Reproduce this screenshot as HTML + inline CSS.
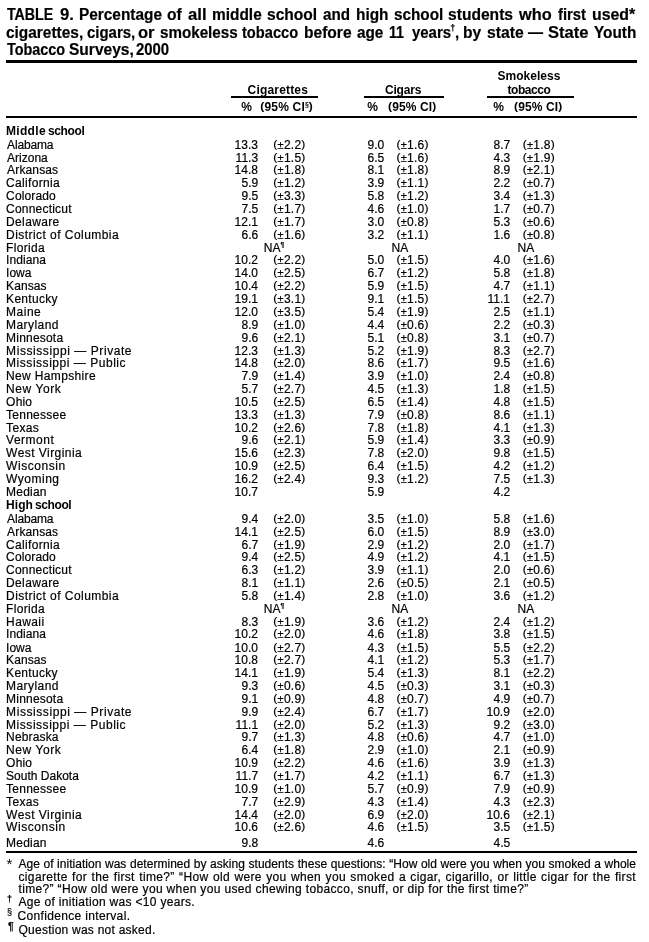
<!DOCTYPE html>
<html><head><meta charset="utf-8"><style>
html,body{margin:0;padding:0;background:#fff;}
#w{position:absolute;left:0;top:0;width:649px;height:942px;will-change:transform;}
body{width:649px;height:942px;position:relative;overflow:hidden;color:#000;font-family:"Liberation Sans",sans-serif;}
.a{position:absolute;white-space:nowrap;font-size:12px;line-height:12px;-webkit-text-stroke:0.2px #000;}
.rule{position:absolute;background:#000;}
.sup{font-size:7px;vertical-align:top;position:relative;top:-3px;letter-spacing:0;}
.pa{display:inline-block;transform:scaleY(0.87);transform-origin:50% 1px;}
.pm{font-size:11px;}
.hsup{font-size:7px;vertical-align:top;position:relative;top:-2px;letter-spacing:0;-webkit-text-stroke:0;}
.tsup{font-size:8px;vertical-align:top;position:relative;top:-1px;letter-spacing:0;margin-left:-1px;margin-right:-1px}
.t{position:absolute;left:7px;width:629px;font-weight:bold;font-size:15px;line-height:15px;}
.j{text-align:justify;text-align-last:justify;white-space:nowrap;}
.t.j{white-space:normal;}
.a.j{white-space:normal;}
</style></head><body><div id="w">
<div class="a" style="left:7.20px;top:7.00px;font-size:16px;line-height:16px;font-weight:bold;transform:scaleX(0.8865);transform-origin:0 0">TABLE</div>
<div class="a" style="left:59.66px;top:7.00px;font-size:16px;line-height:16px;font-weight:bold;transform:scaleX(1.0400);transform-origin:0 0">9.</div>
<div class="a" style="left:78.94px;top:7.00px;font-size:16px;line-height:16px;font-weight:bold;transform:scaleX(0.9619);transform-origin:0 0">Percentage</div>
<div class="a" style="left:166.93px;top:7.00px;font-size:16px;line-height:16px;font-weight:bold;transform:scaleX(0.9714);transform-origin:0 0">of</div>
<div class="a" style="left:188.20px;top:7.00px;font-size:16px;line-height:16px;font-weight:bold;transform:scaleX(1.0400);transform-origin:0 0">all</div>
<div class="a" style="left:211.54px;top:7.00px;font-size:16px;line-height:16px;font-weight:bold;transform:scaleX(0.9640);transform-origin:0 0">middle</div>
<div class="a" style="left:267.23px;top:7.00px;font-size:16px;line-height:16px;font-weight:bold;transform:scaleX(0.9714);transform-origin:0 0">school</div>
<div class="a" style="left:322.50px;top:7.00px;font-size:16px;line-height:16px;font-weight:bold;transform:scaleX(0.9500);transform-origin:0 0">and</div>
<div class="a" style="left:355.64px;top:7.00px;font-size:16px;line-height:16px;font-weight:bold;transform:scaleX(0.9625);transform-origin:0 0">high</div>
<div class="a" style="left:393.84px;top:7.00px;font-size:16px;line-height:16px;font-weight:bold;transform:scaleX(0.9551);transform-origin:0 0">school</div>
<div class="a" style="left:448.12px;top:7.00px;font-size:16px;line-height:16px;font-weight:bold;transform:scaleX(0.9754);transform-origin:0 0">students</div>
<div class="a" style="left:519.10px;top:7.00px;font-size:16px;line-height:16px;font-weight:bold;transform:scaleX(1.0194);transform-origin:0 0">who</div>
<div class="a" style="left:558.00px;top:7.00px;font-size:16px;line-height:16px;font-weight:bold;transform:scaleX(0.9267);transform-origin:0 0">first</div>
<div class="a" style="left:592.31px;top:7.00px;font-size:16px;line-height:16px;font-weight:bold;transform:scaleX(0.9929);transform-origin:0 0">used*</div>
<div class="a" style="left:6.24px;top:25.00px;font-size:16px;line-height:16px;font-weight:bold;transform:scaleX(0.9641);transform-origin:0 0">cigarettes,</div>
<div class="a" style="left:87.27px;top:25.00px;font-size:16px;line-height:16px;font-weight:bold;transform:scaleX(0.9347);transform-origin:0 0">cigars,</div>
<div class="a" style="left:138.47px;top:25.00px;font-size:16px;line-height:16px;font-weight:bold;transform:scaleX(1.0333);transform-origin:0 0">or</div>
<div class="a" style="left:159.75px;top:25.00px;font-size:16px;line-height:16px;font-weight:bold;transform:scaleX(0.9488);transform-origin:0 0">smokeless</div>
<div class="a" style="left:242.40px;top:25.00px;font-size:16px;line-height:16px;font-weight:bold;transform:scaleX(0.9148);transform-origin:0 0">tobacco</div>
<div class="a" style="left:304.03px;top:25.00px;font-size:16px;line-height:16px;font-weight:bold;transform:scaleX(0.9723);transform-origin:0 0">before</div>
<div class="a" style="left:357.40px;top:25.00px;font-size:16px;line-height:16px;font-weight:bold;transform:scaleX(0.9556);transform-origin:0 0">age</div>
<div class="a" style="left:389.01px;top:25.00px;font-size:16px;line-height:16px;font-weight:bold;transform:scaleX(0.8875);transform-origin:0 0">11</div>
<div class="a" style="left:411.60px;top:25.00px;font-size:16px;line-height:16px;font-weight:bold;transform:scaleX(0.9341);transform-origin:0 0">years</div>
<div class="a" style="left:454.76px;top:25.00px;font-size:16px;line-height:16px;font-weight:bold;transform:scaleX(0.9400);transform-origin:0 0">,</div>
<div class="a" style="left:463.03px;top:25.00px;font-size:16px;line-height:16px;font-weight:bold;transform:scaleX(0.9722);transform-origin:0 0">by</div>
<div class="a" style="left:487.22px;top:25.00px;font-size:16px;line-height:16px;font-weight:bold;transform:scaleX(0.9800);transform-origin:0 0">state</div>
<div class="a" style="left:528.30px;top:25.00px;font-size:16px;line-height:16px;font-weight:bold;transform:scaleX(0.9400);transform-origin:0 0">&mdash;</div>
<div class="a" style="left:548.16px;top:25.00px;font-size:16px;line-height:16px;font-weight:bold;transform:scaleX(1.0351);transform-origin:0 0">State</div>
<div class="a" style="left:593.80px;top:25.00px;font-size:16px;line-height:16px;font-weight:bold;transform:scaleX(0.9581);transform-origin:0 0">Youth</div>
<div class="a" style="left:6.90px;top:42.00px;font-size:16px;line-height:16px;font-weight:bold;transform:scaleX(0.9000);transform-origin:0 0">Tobacco</div>
<div class="a" style="left:69.03px;top:42.00px;font-size:16px;line-height:16px;font-weight:bold;transform:scaleX(0.9719);transform-origin:0 0">Surveys,</div>
<div class="a" style="left:136.30px;top:42.00px;font-size:16px;line-height:16px;font-weight:bold;transform:scaleX(0.9314);transform-origin:0 0">2000</div>
<div class="a" style="left:450.2px;top:23.5px;font-size:9px;line-height:9px;font-weight:bold">†</div>
<div class="rule" style="left:6px;top:60px;width:631px;height:3px"></div>
<div class="a" style="left:497.50px;top:70.00px;font-size:12px;line-height:12px;font-weight:bold;-webkit-text-stroke:0;letter-spacing:0.025px">Smokeless</div>
<div class="a" style="left:507.40px;top:84.00px;font-size:12px;line-height:12px;font-weight:bold;-webkit-text-stroke:0;letter-spacing:-0.417px">tobacco</div>
<div class="a" style="left:247.60px;top:84.00px;font-size:12px;line-height:12px;font-weight:bold;-webkit-text-stroke:0;letter-spacing:0.178px">Cigarettes</div>
<div class="a" style="left:384.90px;top:84.00px;font-size:12px;line-height:12px;font-weight:bold;-webkit-text-stroke:0;letter-spacing:-0.180px">Cigars</div>
<div class="rule" style="left:231px;top:96px;width:87px;height:2px"></div>
<div class="rule" style="left:364px;top:96px;width:80px;height:2px"></div>
<div class="rule" style="left:487px;top:96px;width:87px;height:2px"></div>
<div class="a" style="left:241.20px;top:101.00px;font-size:12px;line-height:12px;font-weight:bold;-webkit-text-stroke:0">%</div>
<div class="a" style="left:260.20px;top:101.00px;font-size:12px;line-height:12px;font-weight:bold;-webkit-text-stroke:0;letter-spacing:0.200px"><span class="pa">(</span>95% CI<span class="hsup">§</span><span class="pa">)</span></div>
<div class="a" style="left:367.20px;top:101.00px;font-size:12px;line-height:12px;font-weight:bold;-webkit-text-stroke:0">%</div>
<div class="a" style="left:388.00px;top:101.00px;font-size:12px;line-height:12px;font-weight:bold;-webkit-text-stroke:0;letter-spacing:0.143px"><span class="pa">(</span>95% CI<span class="pa">)</span></div>
<div class="a" style="left:493.20px;top:101.00px;font-size:12px;line-height:12px;font-weight:bold;-webkit-text-stroke:0">%</div>
<div class="a" style="left:514.10px;top:101.00px;font-size:12px;line-height:12px;font-weight:bold;-webkit-text-stroke:0;letter-spacing:0.114px"><span class="pa">(</span>95% CI<span class="pa">)</span></div>
<div class="rule" style="left:6px;top:116px;width:631px;height:2px"></div>
<div class="a" style="left:5.90px;top:125.00px;font-size:12px;line-height:12px;font-weight:bold;-webkit-text-stroke:0;letter-spacing:0.340px">Middle</div>
<div class="a" style="left:47.90px;top:125.00px;font-size:12px;line-height:12px;font-weight:bold;-webkit-text-stroke:0;letter-spacing:-0.340px">school</div>
<div class="a" style="left:5.90px;top:499.00px;font-size:12px;line-height:12px;font-weight:bold;-webkit-text-stroke:0;letter-spacing:0.133px">High</div>
<div class="a" style="left:34.90px;top:499.00px;font-size:12px;line-height:12px;font-weight:bold;-webkit-text-stroke:0;letter-spacing:-0.380px">school</div>
<div class="a" style="left:7.10px;top:139.00px;font-size:12px;line-height:12px;letter-spacing:-0.167px">Alabama</div>
<div class="a" style="left:234.60px;top:139.00px">13.3</div>
<div class="a" style="left:273.30px;top:139.00px;font-size:12px;line-height:12px;letter-spacing:0.260px"><span class="pa">(</span><span class="pm">±</span>2.2<span class="pa">)</span></div>
<div class="a" style="left:367.60px;top:139.00px">9.0</div>
<div class="a" style="left:396.40px;top:139.00px;font-size:12px;line-height:12px;letter-spacing:0.260px"><span class="pa">(</span><span class="pm">±</span>1.6<span class="pa">)</span></div>
<div class="a" style="left:493.50px;top:139.00px">8.7</div>
<div class="a" style="left:522.70px;top:139.00px;font-size:12px;line-height:12px;letter-spacing:0.260px"><span class="pa">(</span><span class="pm">±</span>1.8<span class="pa">)</span></div>
<div class="a" style="left:7.10px;top:152.00px;font-size:12px;line-height:12px">Arizona</div>
<div class="a" style="left:235.60px;top:152.00px">11.3</div>
<div class="a" style="left:273.30px;top:152.00px;font-size:12px;line-height:12px;letter-spacing:0.260px"><span class="pa">(</span><span class="pm">±</span>1.5<span class="pa">)</span></div>
<div class="a" style="left:367.60px;top:152.00px">6.5</div>
<div class="a" style="left:396.40px;top:152.00px;font-size:12px;line-height:12px;letter-spacing:0.260px"><span class="pa">(</span><span class="pm">±</span>1.6<span class="pa">)</span></div>
<div class="a" style="left:493.50px;top:152.00px">4.3</div>
<div class="a" style="left:522.70px;top:152.00px;font-size:12px;line-height:12px;letter-spacing:0.260px"><span class="pa">(</span><span class="pm">±</span>1.9<span class="pa">)</span></div>
<div class="a" style="left:7.10px;top:164.00px;font-size:12px;line-height:12px;letter-spacing:0.143px">Arkansas</div>
<div class="a" style="left:234.60px;top:164.00px">14.8</div>
<div class="a" style="left:273.30px;top:164.00px;font-size:12px;line-height:12px;letter-spacing:0.260px"><span class="pa">(</span><span class="pm">±</span>1.8<span class="pa">)</span></div>
<div class="a" style="left:367.60px;top:164.00px">8.1</div>
<div class="a" style="left:396.40px;top:164.00px;font-size:12px;line-height:12px;letter-spacing:0.260px"><span class="pa">(</span><span class="pm">±</span>1.8<span class="pa">)</span></div>
<div class="a" style="left:493.50px;top:164.00px">8.9</div>
<div class="a" style="left:522.70px;top:164.00px;font-size:12px;line-height:12px;letter-spacing:0.260px"><span class="pa">(</span><span class="pm">±</span>2.1<span class="pa">)</span></div>
<div class="a" style="left:6.10px;top:177.00px;font-size:12px;line-height:12px;letter-spacing:0.333px">California</div>
<div class="a" style="left:241.60px;top:177.00px">5.9</div>
<div class="a" style="left:273.30px;top:177.00px;font-size:12px;line-height:12px;letter-spacing:0.260px"><span class="pa">(</span><span class="pm">±</span>1.2<span class="pa">)</span></div>
<div class="a" style="left:367.60px;top:177.00px">3.9</div>
<div class="a" style="left:396.40px;top:177.00px;font-size:12px;line-height:12px;letter-spacing:0.260px"><span class="pa">(</span><span class="pm">±</span>1.1<span class="pa">)</span></div>
<div class="a" style="left:493.50px;top:177.00px">2.2</div>
<div class="a" style="left:522.70px;top:177.00px;font-size:12px;line-height:12px;letter-spacing:0.260px"><span class="pa">(</span><span class="pm">±</span>0.7<span class="pa">)</span></div>
<div class="a" style="left:6.10px;top:190.00px;font-size:12px;line-height:12px;letter-spacing:0.143px">Colorado</div>
<div class="a" style="left:241.60px;top:190.00px">9.5</div>
<div class="a" style="left:273.30px;top:190.00px;font-size:12px;line-height:12px;letter-spacing:0.260px"><span class="pa">(</span><span class="pm">±</span>3.3<span class="pa">)</span></div>
<div class="a" style="left:367.60px;top:190.00px">5.8</div>
<div class="a" style="left:396.40px;top:190.00px;font-size:12px;line-height:12px;letter-spacing:0.260px"><span class="pa">(</span><span class="pm">±</span>1.2<span class="pa">)</span></div>
<div class="a" style="left:493.50px;top:190.00px">3.4</div>
<div class="a" style="left:522.70px;top:190.00px;font-size:12px;line-height:12px;letter-spacing:0.260px"><span class="pa">(</span><span class="pm">±</span>1.3<span class="pa">)</span></div>
<div class="a" style="left:6.10px;top:203.00px;font-size:12px;line-height:12px;letter-spacing:0.200px">Connecticut</div>
<div class="a" style="left:241.60px;top:203.00px">7.5</div>
<div class="a" style="left:273.30px;top:203.00px;font-size:12px;line-height:12px;letter-spacing:0.260px"><span class="pa">(</span><span class="pm">±</span>1.7<span class="pa">)</span></div>
<div class="a" style="left:367.60px;top:203.00px">4.6</div>
<div class="a" style="left:396.40px;top:203.00px;font-size:12px;line-height:12px;letter-spacing:0.260px"><span class="pa">(</span><span class="pm">±</span>1.0<span class="pa">)</span></div>
<div class="a" style="left:493.50px;top:203.00px">1.7</div>
<div class="a" style="left:522.70px;top:203.00px;font-size:12px;line-height:12px;letter-spacing:0.260px"><span class="pa">(</span><span class="pm">±</span>0.7<span class="pa">)</span></div>
<div class="a" style="left:6.10px;top:216.00px;font-size:12px;line-height:12px;letter-spacing:0.343px">Delaware</div>
<div class="a" style="left:234.60px;top:216.00px">12.1</div>
<div class="a" style="left:273.30px;top:216.00px;font-size:12px;line-height:12px;letter-spacing:0.260px"><span class="pa">(</span><span class="pm">±</span>1.7<span class="pa">)</span></div>
<div class="a" style="left:367.60px;top:216.00px">3.0</div>
<div class="a" style="left:396.40px;top:216.00px;font-size:12px;line-height:12px;letter-spacing:0.260px"><span class="pa">(</span><span class="pm">±</span>0.8<span class="pa">)</span></div>
<div class="a" style="left:493.50px;top:216.00px">5.3</div>
<div class="a" style="left:522.70px;top:216.00px;font-size:12px;line-height:12px;letter-spacing:0.260px"><span class="pa">(</span><span class="pm">±</span>0.6<span class="pa">)</span></div>
<div class="a" style="left:6.10px;top:229.00px;font-size:12px;line-height:12px;letter-spacing:0.447px">District of Columbia</div>
<div class="a" style="left:241.60px;top:229.00px">6.6</div>
<div class="a" style="left:273.30px;top:229.00px;font-size:12px;line-height:12px;letter-spacing:0.260px"><span class="pa">(</span><span class="pm">±</span>1.6<span class="pa">)</span></div>
<div class="a" style="left:367.60px;top:229.00px">3.2</div>
<div class="a" style="left:396.40px;top:229.00px;font-size:12px;line-height:12px;letter-spacing:0.260px"><span class="pa">(</span><span class="pm">±</span>1.1<span class="pa">)</span></div>
<div class="a" style="left:493.50px;top:229.00px">1.6</div>
<div class="a" style="left:522.70px;top:229.00px;font-size:12px;line-height:12px;letter-spacing:0.260px"><span class="pa">(</span><span class="pm">±</span>0.8<span class="pa">)</span></div>
<div class="a" style="left:6.10px;top:242.00px;font-size:12px;line-height:12px;letter-spacing:0.333px">Florida</div>
<div class="a" style="left:263.80px;top:242.00px;font-size:12px;line-height:12px">NA<span class="sup">¶</span></div>
<div class="a" style="left:391.50px;top:242.00px;font-size:12px;line-height:12px">NA</div>
<div class="a" style="left:517.50px;top:242.00px;font-size:12px;line-height:12px">NA</div>
<div class="a" style="left:6.10px;top:254.00px;font-size:12px;line-height:12px;letter-spacing:0.067px">Indiana</div>
<div class="a" style="left:234.60px;top:254.00px">10.2</div>
<div class="a" style="left:273.30px;top:254.00px;font-size:12px;line-height:12px;letter-spacing:0.260px"><span class="pa">(</span><span class="pm">±</span>2.2<span class="pa">)</span></div>
<div class="a" style="left:367.60px;top:254.00px">5.0</div>
<div class="a" style="left:396.40px;top:254.00px;font-size:12px;line-height:12px;letter-spacing:0.260px"><span class="pa">(</span><span class="pm">±</span>1.5<span class="pa">)</span></div>
<div class="a" style="left:493.50px;top:254.00px">4.0</div>
<div class="a" style="left:522.70px;top:254.00px;font-size:12px;line-height:12px;letter-spacing:0.260px"><span class="pa">(</span><span class="pm">±</span>1.6<span class="pa">)</span></div>
<div class="a" style="left:6.10px;top:267.00px;font-size:12px;line-height:12px">Iowa</div>
<div class="a" style="left:234.60px;top:267.00px">14.0</div>
<div class="a" style="left:273.30px;top:267.00px;font-size:12px;line-height:12px;letter-spacing:0.260px"><span class="pa">(</span><span class="pm">±</span>2.5<span class="pa">)</span></div>
<div class="a" style="left:367.60px;top:267.00px">6.7</div>
<div class="a" style="left:396.40px;top:267.00px;font-size:12px;line-height:12px;letter-spacing:0.260px"><span class="pa">(</span><span class="pm">±</span>1.2<span class="pa">)</span></div>
<div class="a" style="left:493.50px;top:267.00px">5.8</div>
<div class="a" style="left:522.70px;top:267.00px;font-size:12px;line-height:12px;letter-spacing:0.260px"><span class="pa">(</span><span class="pm">±</span>1.8<span class="pa">)</span></div>
<div class="a" style="left:6.10px;top:280.00px;font-size:12px;line-height:12px;letter-spacing:0.080px">Kansas</div>
<div class="a" style="left:234.60px;top:280.00px">10.4</div>
<div class="a" style="left:273.30px;top:280.00px;font-size:12px;line-height:12px;letter-spacing:0.260px"><span class="pa">(</span><span class="pm">±</span>2.2<span class="pa">)</span></div>
<div class="a" style="left:367.60px;top:280.00px">5.9</div>
<div class="a" style="left:396.40px;top:280.00px;font-size:12px;line-height:12px;letter-spacing:0.260px"><span class="pa">(</span><span class="pm">±</span>1.5<span class="pa">)</span></div>
<div class="a" style="left:493.50px;top:280.00px">4.7</div>
<div class="a" style="left:522.70px;top:280.00px;font-size:12px;line-height:12px;letter-spacing:0.260px"><span class="pa">(</span><span class="pm">±</span>1.1<span class="pa">)</span></div>
<div class="a" style="left:6.10px;top:293.00px;font-size:12px;line-height:12px;letter-spacing:0.286px">Kentucky</div>
<div class="a" style="left:234.60px;top:293.00px">19.1</div>
<div class="a" style="left:273.30px;top:293.00px;font-size:12px;line-height:12px;letter-spacing:0.260px"><span class="pa">(</span><span class="pm">±</span>3.1<span class="pa">)</span></div>
<div class="a" style="left:367.60px;top:293.00px">9.1</div>
<div class="a" style="left:396.40px;top:293.00px;font-size:12px;line-height:12px;letter-spacing:0.260px"><span class="pa">(</span><span class="pm">±</span>1.5<span class="pa">)</span></div>
<div class="a" style="left:487.50px;top:293.00px">11.1</div>
<div class="a" style="left:522.70px;top:293.00px;font-size:12px;line-height:12px;letter-spacing:0.260px"><span class="pa">(</span><span class="pm">±</span>2.7<span class="pa">)</span></div>
<div class="a" style="left:6.10px;top:306.00px;font-size:12px;line-height:12px;letter-spacing:0.500px">Maine</div>
<div class="a" style="left:234.60px;top:306.00px">12.0</div>
<div class="a" style="left:273.30px;top:306.00px;font-size:12px;line-height:12px;letter-spacing:0.260px"><span class="pa">(</span><span class="pm">±</span>3.5<span class="pa">)</span></div>
<div class="a" style="left:367.60px;top:306.00px">5.4</div>
<div class="a" style="left:396.40px;top:306.00px;font-size:12px;line-height:12px;letter-spacing:0.260px"><span class="pa">(</span><span class="pm">±</span>1.9<span class="pa">)</span></div>
<div class="a" style="left:493.50px;top:306.00px">2.5</div>
<div class="a" style="left:522.70px;top:306.00px;font-size:12px;line-height:12px;letter-spacing:0.260px"><span class="pa">(</span><span class="pm">±</span>1.1<span class="pa">)</span></div>
<div class="a" style="left:6.10px;top:319.00px;font-size:12px;line-height:12px;letter-spacing:0.429px">Maryland</div>
<div class="a" style="left:241.60px;top:319.00px">8.9</div>
<div class="a" style="left:273.30px;top:319.00px;font-size:12px;line-height:12px;letter-spacing:0.260px"><span class="pa">(</span><span class="pm">±</span>1.0<span class="pa">)</span></div>
<div class="a" style="left:367.60px;top:319.00px">4.4</div>
<div class="a" style="left:396.40px;top:319.00px;font-size:12px;line-height:12px;letter-spacing:0.260px"><span class="pa">(</span><span class="pm">±</span>0.6<span class="pa">)</span></div>
<div class="a" style="left:493.50px;top:319.00px">2.2</div>
<div class="a" style="left:522.70px;top:319.00px;font-size:12px;line-height:12px;letter-spacing:0.260px"><span class="pa">(</span><span class="pm">±</span>0.3<span class="pa">)</span></div>
<div class="a" style="left:6.10px;top:332.00px;font-size:12px;line-height:12px;letter-spacing:0.200px">Minnesota</div>
<div class="a" style="left:241.60px;top:332.00px">9.6</div>
<div class="a" style="left:273.30px;top:332.00px;font-size:12px;line-height:12px;letter-spacing:0.260px"><span class="pa">(</span><span class="pm">±</span>2.1<span class="pa">)</span></div>
<div class="a" style="left:367.60px;top:332.00px">5.1</div>
<div class="a" style="left:396.40px;top:332.00px;font-size:12px;line-height:12px;letter-spacing:0.260px"><span class="pa">(</span><span class="pm">±</span>0.8<span class="pa">)</span></div>
<div class="a" style="left:493.50px;top:332.00px">3.1</div>
<div class="a" style="left:522.70px;top:332.00px;font-size:12px;line-height:12px;letter-spacing:0.260px"><span class="pa">(</span><span class="pm">±</span>0.7<span class="pa">)</span></div>
<div class="a" style="left:6.10px;top:345.00px;font-size:12px;line-height:12px;letter-spacing:0.570px">Mississippi &mdash; Private</div>
<div class="a" style="left:234.60px;top:345.00px">12.3</div>
<div class="a" style="left:273.30px;top:345.00px;font-size:12px;line-height:12px;letter-spacing:0.260px"><span class="pa">(</span><span class="pm">±</span>1.3<span class="pa">)</span></div>
<div class="a" style="left:367.60px;top:345.00px">5.2</div>
<div class="a" style="left:396.40px;top:345.00px;font-size:12px;line-height:12px;letter-spacing:0.260px"><span class="pa">(</span><span class="pm">±</span>1.9<span class="pa">)</span></div>
<div class="a" style="left:493.50px;top:345.00px">8.3</div>
<div class="a" style="left:522.70px;top:345.00px;font-size:12px;line-height:12px;letter-spacing:0.260px"><span class="pa">(</span><span class="pm">±</span>2.7<span class="pa">)</span></div>
<div class="a" style="left:6.10px;top:357.00px;font-size:12px;line-height:12px;letter-spacing:0.532px">Mississippi &mdash; Public</div>
<div class="a" style="left:234.60px;top:357.00px">14.8</div>
<div class="a" style="left:273.30px;top:357.00px;font-size:12px;line-height:12px;letter-spacing:0.260px"><span class="pa">(</span><span class="pm">±</span>2.0<span class="pa">)</span></div>
<div class="a" style="left:367.60px;top:357.00px">8.6</div>
<div class="a" style="left:396.40px;top:357.00px;font-size:12px;line-height:12px;letter-spacing:0.260px"><span class="pa">(</span><span class="pm">±</span>1.7<span class="pa">)</span></div>
<div class="a" style="left:493.50px;top:357.00px">9.5</div>
<div class="a" style="left:522.70px;top:357.00px;font-size:12px;line-height:12px;letter-spacing:0.260px"><span class="pa">(</span><span class="pm">±</span>1.6<span class="pa">)</span></div>
<div class="a" style="left:6.10px;top:370.00px;font-size:12px;line-height:12px;letter-spacing:0.342px">New Hampshire</div>
<div class="a" style="left:241.60px;top:370.00px">7.9</div>
<div class="a" style="left:273.30px;top:370.00px;font-size:12px;line-height:12px;letter-spacing:0.260px"><span class="pa">(</span><span class="pm">±</span>1.4<span class="pa">)</span></div>
<div class="a" style="left:367.60px;top:370.00px">3.9</div>
<div class="a" style="left:396.40px;top:370.00px;font-size:12px;line-height:12px;letter-spacing:0.260px"><span class="pa">(</span><span class="pm">±</span>1.0<span class="pa">)</span></div>
<div class="a" style="left:493.50px;top:370.00px">2.4</div>
<div class="a" style="left:522.70px;top:370.00px;font-size:12px;line-height:12px;letter-spacing:0.260px"><span class="pa">(</span><span class="pm">±</span>0.8<span class="pa">)</span></div>
<div class="a" style="left:6.10px;top:383.00px;font-size:12px;line-height:12px;letter-spacing:0.571px">New York</div>
<div class="a" style="left:241.60px;top:383.00px">5.7</div>
<div class="a" style="left:273.30px;top:383.00px;font-size:12px;line-height:12px;letter-spacing:0.260px"><span class="pa">(</span><span class="pm">±</span>2.7<span class="pa">)</span></div>
<div class="a" style="left:367.60px;top:383.00px">4.5</div>
<div class="a" style="left:396.40px;top:383.00px;font-size:12px;line-height:12px;letter-spacing:0.260px"><span class="pa">(</span><span class="pm">±</span>1.3<span class="pa">)</span></div>
<div class="a" style="left:493.50px;top:383.00px">1.8</div>
<div class="a" style="left:522.70px;top:383.00px;font-size:12px;line-height:12px;letter-spacing:0.260px"><span class="pa">(</span><span class="pm">±</span>1.5<span class="pa">)</span></div>
<div class="a" style="left:6.10px;top:396.00px;font-size:12px;line-height:12px;letter-spacing:0.200px">Ohio</div>
<div class="a" style="left:234.60px;top:396.00px">10.5</div>
<div class="a" style="left:273.30px;top:396.00px;font-size:12px;line-height:12px;letter-spacing:0.260px"><span class="pa">(</span><span class="pm">±</span>2.5<span class="pa">)</span></div>
<div class="a" style="left:367.60px;top:396.00px">6.5</div>
<div class="a" style="left:396.40px;top:396.00px;font-size:12px;line-height:12px;letter-spacing:0.260px"><span class="pa">(</span><span class="pm">±</span>1.4<span class="pa">)</span></div>
<div class="a" style="left:493.50px;top:396.00px">4.8</div>
<div class="a" style="left:522.70px;top:396.00px;font-size:12px;line-height:12px;letter-spacing:0.260px"><span class="pa">(</span><span class="pm">±</span>1.5<span class="pa">)</span></div>
<div class="a" style="left:6.10px;top:409.00px;font-size:12px;line-height:12px;letter-spacing:0.250px">Tennessee</div>
<div class="a" style="left:234.60px;top:409.00px">13.3</div>
<div class="a" style="left:273.30px;top:409.00px;font-size:12px;line-height:12px;letter-spacing:0.260px"><span class="pa">(</span><span class="pm">±</span>1.3<span class="pa">)</span></div>
<div class="a" style="left:367.60px;top:409.00px">7.9</div>
<div class="a" style="left:396.40px;top:409.00px;font-size:12px;line-height:12px;letter-spacing:0.260px"><span class="pa">(</span><span class="pm">±</span>0.8<span class="pa">)</span></div>
<div class="a" style="left:493.50px;top:409.00px">8.6</div>
<div class="a" style="left:522.70px;top:409.00px;font-size:12px;line-height:12px;letter-spacing:0.260px"><span class="pa">(</span><span class="pm">±</span>1.1<span class="pa">)</span></div>
<div class="a" style="left:6.10px;top:422.00px;font-size:12px;line-height:12px;letter-spacing:0.350px">Texas</div>
<div class="a" style="left:234.60px;top:422.00px">10.2</div>
<div class="a" style="left:273.30px;top:422.00px;font-size:12px;line-height:12px;letter-spacing:0.260px"><span class="pa">(</span><span class="pm">±</span>2.6<span class="pa">)</span></div>
<div class="a" style="left:367.60px;top:422.00px">7.8</div>
<div class="a" style="left:396.40px;top:422.00px;font-size:12px;line-height:12px;letter-spacing:0.260px"><span class="pa">(</span><span class="pm">±</span>1.8<span class="pa">)</span></div>
<div class="a" style="left:493.50px;top:422.00px">4.1</div>
<div class="a" style="left:522.70px;top:422.00px;font-size:12px;line-height:12px;letter-spacing:0.260px"><span class="pa">(</span><span class="pm">±</span>1.3<span class="pa">)</span></div>
<div class="a" style="left:6.10px;top:434.00px;font-size:12px;line-height:12px;letter-spacing:0.500px">Vermont</div>
<div class="a" style="left:241.60px;top:434.00px">9.6</div>
<div class="a" style="left:273.30px;top:434.00px;font-size:12px;line-height:12px;letter-spacing:0.260px"><span class="pa">(</span><span class="pm">±</span>2.1<span class="pa">)</span></div>
<div class="a" style="left:367.60px;top:434.00px">5.9</div>
<div class="a" style="left:396.40px;top:434.00px;font-size:12px;line-height:12px;letter-spacing:0.260px"><span class="pa">(</span><span class="pm">±</span>1.4<span class="pa">)</span></div>
<div class="a" style="left:493.50px;top:434.00px">3.3</div>
<div class="a" style="left:522.70px;top:434.00px;font-size:12px;line-height:12px;letter-spacing:0.260px"><span class="pa">(</span><span class="pm">±</span>0.9<span class="pa">)</span></div>
<div class="a" style="left:6.10px;top:447.00px;font-size:12px;line-height:12px;letter-spacing:0.450px">West Virginia</div>
<div class="a" style="left:234.60px;top:447.00px">15.6</div>
<div class="a" style="left:273.30px;top:447.00px;font-size:12px;line-height:12px;letter-spacing:0.260px"><span class="pa">(</span><span class="pm">±</span>2.3<span class="pa">)</span></div>
<div class="a" style="left:367.60px;top:447.00px">7.8</div>
<div class="a" style="left:396.40px;top:447.00px;font-size:12px;line-height:12px;letter-spacing:0.260px"><span class="pa">(</span><span class="pm">±</span>2.0<span class="pa">)</span></div>
<div class="a" style="left:493.50px;top:447.00px">9.8</div>
<div class="a" style="left:522.70px;top:447.00px;font-size:12px;line-height:12px;letter-spacing:0.260px"><span class="pa">(</span><span class="pm">±</span>1.5<span class="pa">)</span></div>
<div class="a" style="left:6.10px;top:460.00px;font-size:12px;line-height:12px;letter-spacing:0.550px">Wisconsin</div>
<div class="a" style="left:234.60px;top:460.00px">10.9</div>
<div class="a" style="left:273.30px;top:460.00px;font-size:12px;line-height:12px;letter-spacing:0.260px"><span class="pa">(</span><span class="pm">±</span>2.5<span class="pa">)</span></div>
<div class="a" style="left:367.60px;top:460.00px">6.4</div>
<div class="a" style="left:396.40px;top:460.00px;font-size:12px;line-height:12px;letter-spacing:0.260px"><span class="pa">(</span><span class="pm">±</span>1.5<span class="pa">)</span></div>
<div class="a" style="left:493.50px;top:460.00px">4.2</div>
<div class="a" style="left:522.70px;top:460.00px;font-size:12px;line-height:12px;letter-spacing:0.260px"><span class="pa">(</span><span class="pm">±</span>1.2<span class="pa">)</span></div>
<div class="a" style="left:6.10px;top:473.00px;font-size:12px;line-height:12px;letter-spacing:0.500px">Wyoming</div>
<div class="a" style="left:234.60px;top:473.00px">16.2</div>
<div class="a" style="left:273.30px;top:473.00px;font-size:12px;line-height:12px;letter-spacing:0.260px"><span class="pa">(</span><span class="pm">±</span>2.4<span class="pa">)</span></div>
<div class="a" style="left:367.60px;top:473.00px">9.3</div>
<div class="a" style="left:396.40px;top:473.00px;font-size:12px;line-height:12px;letter-spacing:0.260px"><span class="pa">(</span><span class="pm">±</span>1.2<span class="pa">)</span></div>
<div class="a" style="left:493.50px;top:473.00px">7.5</div>
<div class="a" style="left:522.70px;top:473.00px;font-size:12px;line-height:12px;letter-spacing:0.260px"><span class="pa">(</span><span class="pm">±</span>1.3<span class="pa">)</span></div>
<div class="a" style="left:6.10px;top:486.00px;font-size:12px;line-height:12px;letter-spacing:0.200px">Median</div>
<div class="a" style="left:234.60px;top:486.00px">10.7</div>
<div class="a" style="left:367.60px;top:486.00px">5.9</div>
<div class="a" style="left:493.50px;top:486.00px">4.2</div>
<div class="a" style="left:7.10px;top:513.00px;font-size:12px;line-height:12px;letter-spacing:-0.167px">Alabama</div>
<div class="a" style="left:241.60px;top:513.00px">9.4</div>
<div class="a" style="left:273.30px;top:513.00px;font-size:12px;line-height:12px;letter-spacing:0.260px"><span class="pa">(</span><span class="pm">±</span>2.0<span class="pa">)</span></div>
<div class="a" style="left:367.60px;top:513.00px">3.5</div>
<div class="a" style="left:396.40px;top:513.00px;font-size:12px;line-height:12px;letter-spacing:0.260px"><span class="pa">(</span><span class="pm">±</span>1.0<span class="pa">)</span></div>
<div class="a" style="left:493.50px;top:513.00px">5.8</div>
<div class="a" style="left:522.70px;top:513.00px;font-size:12px;line-height:12px;letter-spacing:0.260px"><span class="pa">(</span><span class="pm">±</span>1.6<span class="pa">)</span></div>
<div class="a" style="left:7.10px;top:526.00px;font-size:12px;line-height:12px;letter-spacing:0.143px">Arkansas</div>
<div class="a" style="left:234.60px;top:526.00px">14.1</div>
<div class="a" style="left:273.30px;top:526.00px;font-size:12px;line-height:12px;letter-spacing:0.260px"><span class="pa">(</span><span class="pm">±</span>2.5<span class="pa">)</span></div>
<div class="a" style="left:367.60px;top:526.00px">6.0</div>
<div class="a" style="left:396.40px;top:526.00px;font-size:12px;line-height:12px;letter-spacing:0.260px"><span class="pa">(</span><span class="pm">±</span>1.5<span class="pa">)</span></div>
<div class="a" style="left:493.50px;top:526.00px">8.9</div>
<div class="a" style="left:522.70px;top:526.00px;font-size:12px;line-height:12px;letter-spacing:0.260px"><span class="pa">(</span><span class="pm">±</span>3.0<span class="pa">)</span></div>
<div class="a" style="left:6.10px;top:539.00px;font-size:12px;line-height:12px;letter-spacing:0.333px">California</div>
<div class="a" style="left:241.60px;top:539.00px">6.7</div>
<div class="a" style="left:273.30px;top:539.00px;font-size:12px;line-height:12px;letter-spacing:0.260px"><span class="pa">(</span><span class="pm">±</span>1.9<span class="pa">)</span></div>
<div class="a" style="left:367.60px;top:539.00px">2.9</div>
<div class="a" style="left:396.40px;top:539.00px;font-size:12px;line-height:12px;letter-spacing:0.260px"><span class="pa">(</span><span class="pm">±</span>1.2<span class="pa">)</span></div>
<div class="a" style="left:493.50px;top:539.00px">2.0</div>
<div class="a" style="left:522.70px;top:539.00px;font-size:12px;line-height:12px;letter-spacing:0.260px"><span class="pa">(</span><span class="pm">±</span>1.7<span class="pa">)</span></div>
<div class="a" style="left:6.10px;top:551.00px;font-size:12px;line-height:12px;letter-spacing:0.143px">Colorado</div>
<div class="a" style="left:241.60px;top:551.00px">9.4</div>
<div class="a" style="left:273.30px;top:551.00px;font-size:12px;line-height:12px;letter-spacing:0.260px"><span class="pa">(</span><span class="pm">±</span>2.5<span class="pa">)</span></div>
<div class="a" style="left:367.60px;top:551.00px">4.9</div>
<div class="a" style="left:396.40px;top:551.00px;font-size:12px;line-height:12px;letter-spacing:0.260px"><span class="pa">(</span><span class="pm">±</span>1.2<span class="pa">)</span></div>
<div class="a" style="left:493.50px;top:551.00px">4.1</div>
<div class="a" style="left:522.70px;top:551.00px;font-size:12px;line-height:12px;letter-spacing:0.260px"><span class="pa">(</span><span class="pm">±</span>1.5<span class="pa">)</span></div>
<div class="a" style="left:6.10px;top:564.00px;font-size:12px;line-height:12px;letter-spacing:0.200px">Connecticut</div>
<div class="a" style="left:241.60px;top:564.00px">6.3</div>
<div class="a" style="left:273.30px;top:564.00px;font-size:12px;line-height:12px;letter-spacing:0.260px"><span class="pa">(</span><span class="pm">±</span>1.2<span class="pa">)</span></div>
<div class="a" style="left:367.60px;top:564.00px">3.9</div>
<div class="a" style="left:396.40px;top:564.00px;font-size:12px;line-height:12px;letter-spacing:0.260px"><span class="pa">(</span><span class="pm">±</span>1.1<span class="pa">)</span></div>
<div class="a" style="left:493.50px;top:564.00px">2.0</div>
<div class="a" style="left:522.70px;top:564.00px;font-size:12px;line-height:12px;letter-spacing:0.260px"><span class="pa">(</span><span class="pm">±</span>0.6<span class="pa">)</span></div>
<div class="a" style="left:6.10px;top:577.00px;font-size:12px;line-height:12px;letter-spacing:0.343px">Delaware</div>
<div class="a" style="left:241.60px;top:577.00px">8.1</div>
<div class="a" style="left:273.30px;top:577.00px;font-size:12px;line-height:12px;letter-spacing:0.260px"><span class="pa">(</span><span class="pm">±</span>1.1<span class="pa">)</span></div>
<div class="a" style="left:367.60px;top:577.00px">2.6</div>
<div class="a" style="left:396.40px;top:577.00px;font-size:12px;line-height:12px;letter-spacing:0.260px"><span class="pa">(</span><span class="pm">±</span>0.5<span class="pa">)</span></div>
<div class="a" style="left:493.50px;top:577.00px">2.1</div>
<div class="a" style="left:522.70px;top:577.00px;font-size:12px;line-height:12px;letter-spacing:0.260px"><span class="pa">(</span><span class="pm">±</span>0.5<span class="pa">)</span></div>
<div class="a" style="left:6.10px;top:590.00px;font-size:12px;line-height:12px;letter-spacing:0.447px">District of Columbia</div>
<div class="a" style="left:241.60px;top:590.00px">5.8</div>
<div class="a" style="left:273.30px;top:590.00px;font-size:12px;line-height:12px;letter-spacing:0.260px"><span class="pa">(</span><span class="pm">±</span>1.4<span class="pa">)</span></div>
<div class="a" style="left:367.60px;top:590.00px">2.8</div>
<div class="a" style="left:396.40px;top:590.00px;font-size:12px;line-height:12px;letter-spacing:0.260px"><span class="pa">(</span><span class="pm">±</span>1.0<span class="pa">)</span></div>
<div class="a" style="left:493.50px;top:590.00px">3.6</div>
<div class="a" style="left:522.70px;top:590.00px;font-size:12px;line-height:12px;letter-spacing:0.260px"><span class="pa">(</span><span class="pm">±</span>1.2<span class="pa">)</span></div>
<div class="a" style="left:6.10px;top:603.00px;font-size:12px;line-height:12px;letter-spacing:0.333px">Florida</div>
<div class="a" style="left:263.80px;top:603.00px;font-size:12px;line-height:12px">NA<span class="sup">¶</span></div>
<div class="a" style="left:391.50px;top:603.00px;font-size:12px;line-height:12px">NA</div>
<div class="a" style="left:517.50px;top:603.00px;font-size:12px;line-height:12px">NA</div>
<div class="a" style="left:6.10px;top:616.00px;font-size:12px;line-height:12px;letter-spacing:0.400px">Hawaii</div>
<div class="a" style="left:241.60px;top:616.00px">8.3</div>
<div class="a" style="left:273.30px;top:616.00px;font-size:12px;line-height:12px;letter-spacing:0.260px"><span class="pa">(</span><span class="pm">±</span>1.9<span class="pa">)</span></div>
<div class="a" style="left:367.60px;top:616.00px">3.6</div>
<div class="a" style="left:396.40px;top:616.00px;font-size:12px;line-height:12px;letter-spacing:0.260px"><span class="pa">(</span><span class="pm">±</span>1.2<span class="pa">)</span></div>
<div class="a" style="left:493.50px;top:616.00px">2.4</div>
<div class="a" style="left:522.70px;top:616.00px;font-size:12px;line-height:12px;letter-spacing:0.260px"><span class="pa">(</span><span class="pm">±</span>1.2<span class="pa">)</span></div>
<div class="a" style="left:6.10px;top:628.00px;font-size:12px;line-height:12px;letter-spacing:0.067px">Indiana</div>
<div class="a" style="left:234.60px;top:628.00px">10.2</div>
<div class="a" style="left:273.30px;top:628.00px;font-size:12px;line-height:12px;letter-spacing:0.260px"><span class="pa">(</span><span class="pm">±</span>2.0<span class="pa">)</span></div>
<div class="a" style="left:367.60px;top:628.00px">4.6</div>
<div class="a" style="left:396.40px;top:628.00px;font-size:12px;line-height:12px;letter-spacing:0.260px"><span class="pa">(</span><span class="pm">±</span>1.8<span class="pa">)</span></div>
<div class="a" style="left:493.50px;top:628.00px">3.8</div>
<div class="a" style="left:522.70px;top:628.00px;font-size:12px;line-height:12px;letter-spacing:0.260px"><span class="pa">(</span><span class="pm">±</span>1.5<span class="pa">)</span></div>
<div class="a" style="left:6.10px;top:642.00px;font-size:12px;line-height:12px">Iowa</div>
<div class="a" style="left:234.60px;top:642.00px">10.0</div>
<div class="a" style="left:273.30px;top:642.00px;font-size:12px;line-height:12px;letter-spacing:0.260px"><span class="pa">(</span><span class="pm">±</span>2.7<span class="pa">)</span></div>
<div class="a" style="left:367.60px;top:642.00px">4.3</div>
<div class="a" style="left:396.40px;top:642.00px;font-size:12px;line-height:12px;letter-spacing:0.260px"><span class="pa">(</span><span class="pm">±</span>1.5<span class="pa">)</span></div>
<div class="a" style="left:493.50px;top:642.00px">5.5</div>
<div class="a" style="left:522.70px;top:642.00px;font-size:12px;line-height:12px;letter-spacing:0.260px"><span class="pa">(</span><span class="pm">±</span>2.2<span class="pa">)</span></div>
<div class="a" style="left:6.10px;top:654.00px;font-size:12px;line-height:12px;letter-spacing:0.080px">Kansas</div>
<div class="a" style="left:234.60px;top:654.00px">10.8</div>
<div class="a" style="left:273.30px;top:654.00px;font-size:12px;line-height:12px;letter-spacing:0.260px"><span class="pa">(</span><span class="pm">±</span>2.7<span class="pa">)</span></div>
<div class="a" style="left:367.60px;top:654.00px">4.1</div>
<div class="a" style="left:396.40px;top:654.00px;font-size:12px;line-height:12px;letter-spacing:0.260px"><span class="pa">(</span><span class="pm">±</span>1.2<span class="pa">)</span></div>
<div class="a" style="left:493.50px;top:654.00px">5.3</div>
<div class="a" style="left:522.70px;top:654.00px;font-size:12px;line-height:12px;letter-spacing:0.260px"><span class="pa">(</span><span class="pm">±</span>1.7<span class="pa">)</span></div>
<div class="a" style="left:6.10px;top:667.00px;font-size:12px;line-height:12px;letter-spacing:0.286px">Kentucky</div>
<div class="a" style="left:234.60px;top:667.00px">14.1</div>
<div class="a" style="left:273.30px;top:667.00px;font-size:12px;line-height:12px;letter-spacing:0.260px"><span class="pa">(</span><span class="pm">±</span>1.9<span class="pa">)</span></div>
<div class="a" style="left:367.60px;top:667.00px">5.4</div>
<div class="a" style="left:396.40px;top:667.00px;font-size:12px;line-height:12px;letter-spacing:0.260px"><span class="pa">(</span><span class="pm">±</span>1.3<span class="pa">)</span></div>
<div class="a" style="left:493.50px;top:667.00px">8.1</div>
<div class="a" style="left:522.70px;top:667.00px;font-size:12px;line-height:12px;letter-spacing:0.260px"><span class="pa">(</span><span class="pm">±</span>2.2<span class="pa">)</span></div>
<div class="a" style="left:6.10px;top:680.00px;font-size:12px;line-height:12px;letter-spacing:0.429px">Maryland</div>
<div class="a" style="left:241.60px;top:680.00px">9.3</div>
<div class="a" style="left:273.30px;top:680.00px;font-size:12px;line-height:12px;letter-spacing:0.260px"><span class="pa">(</span><span class="pm">±</span>0.6<span class="pa">)</span></div>
<div class="a" style="left:367.60px;top:680.00px">4.5</div>
<div class="a" style="left:396.40px;top:680.00px;font-size:12px;line-height:12px;letter-spacing:0.260px"><span class="pa">(</span><span class="pm">±</span>0.3<span class="pa">)</span></div>
<div class="a" style="left:493.50px;top:680.00px">3.1</div>
<div class="a" style="left:522.70px;top:680.00px;font-size:12px;line-height:12px;letter-spacing:0.260px"><span class="pa">(</span><span class="pm">±</span>0.3<span class="pa">)</span></div>
<div class="a" style="left:6.10px;top:693.00px;font-size:12px;line-height:12px;letter-spacing:0.200px">Minnesota</div>
<div class="a" style="left:241.60px;top:693.00px">9.1</div>
<div class="a" style="left:273.30px;top:693.00px;font-size:12px;line-height:12px;letter-spacing:0.260px"><span class="pa">(</span><span class="pm">±</span>0.9<span class="pa">)</span></div>
<div class="a" style="left:367.60px;top:693.00px">4.8</div>
<div class="a" style="left:396.40px;top:693.00px;font-size:12px;line-height:12px;letter-spacing:0.260px"><span class="pa">(</span><span class="pm">±</span>0.7<span class="pa">)</span></div>
<div class="a" style="left:493.50px;top:693.00px">4.9</div>
<div class="a" style="left:522.70px;top:693.00px;font-size:12px;line-height:12px;letter-spacing:0.260px"><span class="pa">(</span><span class="pm">±</span>0.7<span class="pa">)</span></div>
<div class="a" style="left:6.10px;top:706.00px;font-size:12px;line-height:12px;letter-spacing:0.570px">Mississippi &mdash; Private</div>
<div class="a" style="left:241.60px;top:706.00px">9.9</div>
<div class="a" style="left:273.30px;top:706.00px;font-size:12px;line-height:12px;letter-spacing:0.260px"><span class="pa">(</span><span class="pm">±</span>2.4<span class="pa">)</span></div>
<div class="a" style="left:367.60px;top:706.00px">6.7</div>
<div class="a" style="left:396.40px;top:706.00px;font-size:12px;line-height:12px;letter-spacing:0.260px"><span class="pa">(</span><span class="pm">±</span>1.7<span class="pa">)</span></div>
<div class="a" style="left:486.50px;top:706.00px">10.9</div>
<div class="a" style="left:522.70px;top:706.00px;font-size:12px;line-height:12px;letter-spacing:0.260px"><span class="pa">(</span><span class="pm">±</span>2.0<span class="pa">)</span></div>
<div class="a" style="left:6.10px;top:719.00px;font-size:12px;line-height:12px;letter-spacing:0.532px">Mississippi &mdash; Public</div>
<div class="a" style="left:235.60px;top:719.00px">11.1</div>
<div class="a" style="left:273.30px;top:719.00px;font-size:12px;line-height:12px;letter-spacing:0.260px"><span class="pa">(</span><span class="pm">±</span>2.0<span class="pa">)</span></div>
<div class="a" style="left:367.60px;top:719.00px">5.2</div>
<div class="a" style="left:396.40px;top:719.00px;font-size:12px;line-height:12px;letter-spacing:0.260px"><span class="pa">(</span><span class="pm">±</span>1.3<span class="pa">)</span></div>
<div class="a" style="left:493.50px;top:719.00px">9.2</div>
<div class="a" style="left:522.70px;top:719.00px;font-size:12px;line-height:12px;letter-spacing:0.260px"><span class="pa">(</span><span class="pm">±</span>3.0<span class="pa">)</span></div>
<div class="a" style="left:6.10px;top:731.00px;font-size:12px;line-height:12px;letter-spacing:0.143px">Nebraska</div>
<div class="a" style="left:241.60px;top:731.00px">9.7</div>
<div class="a" style="left:273.30px;top:731.00px;font-size:12px;line-height:12px;letter-spacing:0.260px"><span class="pa">(</span><span class="pm">±</span>1.3<span class="pa">)</span></div>
<div class="a" style="left:367.60px;top:731.00px">4.8</div>
<div class="a" style="left:396.40px;top:731.00px;font-size:12px;line-height:12px;letter-spacing:0.260px"><span class="pa">(</span><span class="pm">±</span>0.6<span class="pa">)</span></div>
<div class="a" style="left:493.50px;top:731.00px">4.7</div>
<div class="a" style="left:522.70px;top:731.00px;font-size:12px;line-height:12px;letter-spacing:0.260px"><span class="pa">(</span><span class="pm">±</span>1.0<span class="pa">)</span></div>
<div class="a" style="left:6.10px;top:744.00px;font-size:12px;line-height:12px;letter-spacing:0.571px">New York</div>
<div class="a" style="left:241.60px;top:744.00px">6.4</div>
<div class="a" style="left:273.30px;top:744.00px;font-size:12px;line-height:12px;letter-spacing:0.260px"><span class="pa">(</span><span class="pm">±</span>1.8<span class="pa">)</span></div>
<div class="a" style="left:367.60px;top:744.00px">2.9</div>
<div class="a" style="left:396.40px;top:744.00px;font-size:12px;line-height:12px;letter-spacing:0.260px"><span class="pa">(</span><span class="pm">±</span>1.0<span class="pa">)</span></div>
<div class="a" style="left:493.50px;top:744.00px">2.1</div>
<div class="a" style="left:522.70px;top:744.00px;font-size:12px;line-height:12px;letter-spacing:0.260px"><span class="pa">(</span><span class="pm">±</span>0.9<span class="pa">)</span></div>
<div class="a" style="left:6.10px;top:757.00px;font-size:12px;line-height:12px;letter-spacing:0.200px">Ohio</div>
<div class="a" style="left:234.60px;top:757.00px">10.9</div>
<div class="a" style="left:273.30px;top:757.00px;font-size:12px;line-height:12px;letter-spacing:0.260px"><span class="pa">(</span><span class="pm">±</span>2.2<span class="pa">)</span></div>
<div class="a" style="left:367.60px;top:757.00px">4.6</div>
<div class="a" style="left:396.40px;top:757.00px;font-size:12px;line-height:12px;letter-spacing:0.260px"><span class="pa">(</span><span class="pm">±</span>1.6<span class="pa">)</span></div>
<div class="a" style="left:493.50px;top:757.00px">3.9</div>
<div class="a" style="left:522.70px;top:757.00px;font-size:12px;line-height:12px;letter-spacing:0.260px"><span class="pa">(</span><span class="pm">±</span>1.3<span class="pa">)</span></div>
<div class="a" style="left:6.10px;top:770.00px;font-size:12px;line-height:12px">South Dakota</div>
<div class="a" style="left:235.60px;top:770.00px">11.7</div>
<div class="a" style="left:273.30px;top:770.00px;font-size:12px;line-height:12px;letter-spacing:0.260px"><span class="pa">(</span><span class="pm">±</span>1.7<span class="pa">)</span></div>
<div class="a" style="left:367.60px;top:770.00px">4.2</div>
<div class="a" style="left:396.40px;top:770.00px;font-size:12px;line-height:12px;letter-spacing:0.260px"><span class="pa">(</span><span class="pm">±</span>1.1<span class="pa">)</span></div>
<div class="a" style="left:493.50px;top:770.00px">6.7</div>
<div class="a" style="left:522.70px;top:770.00px;font-size:12px;line-height:12px;letter-spacing:0.260px"><span class="pa">(</span><span class="pm">±</span>1.3<span class="pa">)</span></div>
<div class="a" style="left:6.10px;top:783.00px;font-size:12px;line-height:12px;letter-spacing:0.250px">Tennessee</div>
<div class="a" style="left:234.60px;top:783.00px">10.9</div>
<div class="a" style="left:273.30px;top:783.00px;font-size:12px;line-height:12px;letter-spacing:0.260px"><span class="pa">(</span><span class="pm">±</span>1.0<span class="pa">)</span></div>
<div class="a" style="left:367.60px;top:783.00px">5.7</div>
<div class="a" style="left:396.40px;top:783.00px;font-size:12px;line-height:12px;letter-spacing:0.260px"><span class="pa">(</span><span class="pm">±</span>0.9<span class="pa">)</span></div>
<div class="a" style="left:493.50px;top:783.00px">7.9</div>
<div class="a" style="left:522.70px;top:783.00px;font-size:12px;line-height:12px;letter-spacing:0.260px"><span class="pa">(</span><span class="pm">±</span>0.9<span class="pa">)</span></div>
<div class="a" style="left:6.10px;top:796.00px;font-size:12px;line-height:12px;letter-spacing:0.350px">Texas</div>
<div class="a" style="left:241.60px;top:796.00px">7.7</div>
<div class="a" style="left:273.30px;top:796.00px;font-size:12px;line-height:12px;letter-spacing:0.260px"><span class="pa">(</span><span class="pm">±</span>2.9<span class="pa">)</span></div>
<div class="a" style="left:367.60px;top:796.00px">4.3</div>
<div class="a" style="left:396.40px;top:796.00px;font-size:12px;line-height:12px;letter-spacing:0.260px"><span class="pa">(</span><span class="pm">±</span>1.4<span class="pa">)</span></div>
<div class="a" style="left:493.50px;top:796.00px">4.3</div>
<div class="a" style="left:522.70px;top:796.00px;font-size:12px;line-height:12px;letter-spacing:0.260px"><span class="pa">(</span><span class="pm">±</span>2.3<span class="pa">)</span></div>
<div class="a" style="left:6.10px;top:809.00px;font-size:12px;line-height:12px;letter-spacing:0.450px">West Virginia</div>
<div class="a" style="left:234.60px;top:809.00px">14.4</div>
<div class="a" style="left:273.30px;top:809.00px;font-size:12px;line-height:12px;letter-spacing:0.260px"><span class="pa">(</span><span class="pm">±</span>2.0<span class="pa">)</span></div>
<div class="a" style="left:367.60px;top:809.00px">6.9</div>
<div class="a" style="left:396.40px;top:809.00px;font-size:12px;line-height:12px;letter-spacing:0.260px"><span class="pa">(</span><span class="pm">±</span>2.0<span class="pa">)</span></div>
<div class="a" style="left:486.50px;top:809.00px">10.6</div>
<div class="a" style="left:522.70px;top:809.00px;font-size:12px;line-height:12px;letter-spacing:0.260px"><span class="pa">(</span><span class="pm">±</span>2.1<span class="pa">)</span></div>
<div class="a" style="left:6.10px;top:821.00px;font-size:12px;line-height:12px;letter-spacing:0.550px">Wisconsin</div>
<div class="a" style="left:234.60px;top:821.00px">10.6</div>
<div class="a" style="left:273.30px;top:821.00px;font-size:12px;line-height:12px;letter-spacing:0.260px"><span class="pa">(</span><span class="pm">±</span>2.6<span class="pa">)</span></div>
<div class="a" style="left:367.60px;top:821.00px">4.6</div>
<div class="a" style="left:396.40px;top:821.00px;font-size:12px;line-height:12px;letter-spacing:0.260px"><span class="pa">(</span><span class="pm">±</span>1.5<span class="pa">)</span></div>
<div class="a" style="left:493.50px;top:821.00px">3.5</div>
<div class="a" style="left:522.70px;top:821.00px;font-size:12px;line-height:12px;letter-spacing:0.260px"><span class="pa">(</span><span class="pm">±</span>1.5<span class="pa">)</span></div>
<div class="a" style="left:6.10px;top:837.00px;font-size:12px;line-height:12px;letter-spacing:0.200px">Median</div>
<div class="a" style="left:241.60px;top:837.00px">9.8</div>
<div class="a" style="left:367.60px;top:837.00px">4.6</div>
<div class="a" style="left:493.50px;top:837.00px">4.5</div>
<div class="rule" style="left:6px;top:851px;width:631px;height:2px"></div>
<div class="a" style="left:6.5px;top:856px;font-size:15px;line-height:15px;-webkit-text-stroke:0">*</div>
<div class="a j" style="left:18.50px;top:858.00px;width:617.50px;font-size:12px;line-height:12px;letter-spacing:0.030px">Age of initiation was determined by asking students these questions: “How old were you when you smoked a whole</div>
<div class="a j" style="left:18.50px;top:871.00px;width:617.50px;font-size:12px;line-height:12px;letter-spacing:0.350px">cigarette for the first time?” “How old were you when you smoked a cigar, cigarillo, or little cigar for the first</div>
<div class="a" style="left:18.50px;top:883.00px;font-size:12px;line-height:12px;letter-spacing:0.349px">time?” “How old were you when you used chewing tobacco, snuff, or dip for the first time?”</div>
<div class="a" style="left:7px;top:895px;font-size:9px;line-height:9px;font-weight:bold">†</div>
<div class="a" style="left:18.50px;top:896.00px;font-size:12px;line-height:12px;letter-spacing:0.313px">Age of initiation was &lt;10 years.</div>
<div class="a" style="left:7px;top:908px;font-size:9px;line-height:9px">§</div>
<div class="a" style="left:17.50px;top:910.00px;font-size:12px;line-height:12px;letter-spacing:0.337px">Confidence interval.</div>
<div class="a" style="left:8px;top:922px;font-size:10px;line-height:10px;font-weight:bold">¶</div>
<div class="a" style="left:18.50px;top:924.00px;font-size:12px;line-height:12px;letter-spacing:0.241px">Question was not asked.</div>
</div></body></html>
